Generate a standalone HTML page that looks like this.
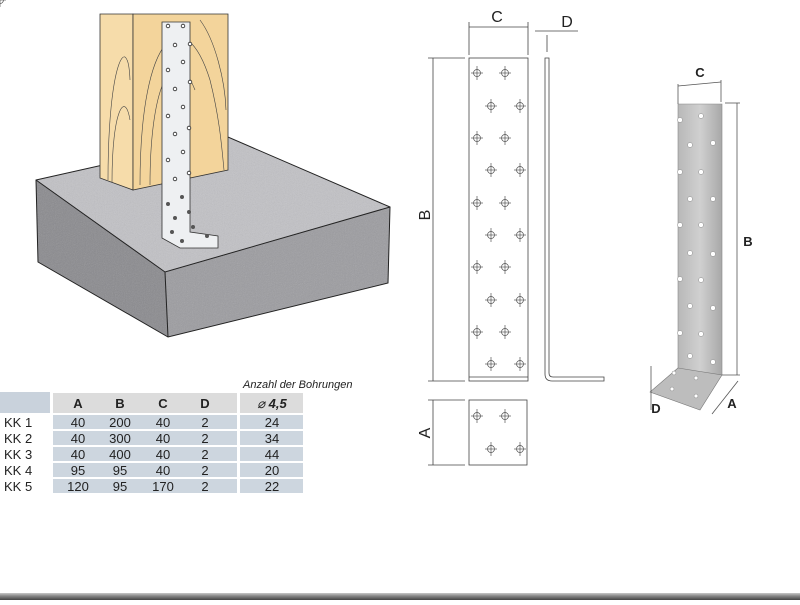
<!DOCTYPE html>
<html><head><meta charset="utf-8"><style>
body{margin:0;background:#fff;width:800px;height:600px;overflow:hidden;font-family:"Liberation Sans",sans-serif}
</style></head><body>
<svg width="800" height="600" viewBox="0 0 800 600" xmlns="http://www.w3.org/2000/svg" font-family="Liberation Sans, sans-serif">
<defs>
<filter id="noise" x="0" y="0" width="1" height="1"><feTurbulence type="fractalNoise" baseFrequency="1.1" numOctaves="2" seed="3"/><feColorMatrix type="saturate" values="0"/><feComponentTransfer><feFuncA type="linear" slope="0.6"/></feComponentTransfer></filter>
<clipPath id="slab"><polygon points="36,180 228,137 390,207 388,283 168,337 38,262"/></clipPath>
<linearGradient id="bar" x1="0" y1="0" x2="0" y2="1"><stop offset="0" stop-color="#c8c8c8"/><stop offset="0.4" stop-color="#8a8a8a"/><stop offset="1" stop-color="#444"/></linearGradient>
<linearGradient id="steel" x1="0" y1="0" x2="1" y2="0"><stop offset="0" stop-color="#b8b8b8"/><stop offset="0.5" stop-color="#d0d0d0"/><stop offset="1" stop-color="#a8a8a8"/></linearGradient>
</defs>
<!-- concrete slab -->
<polygon points="36,180 228,137 390,207 165,272" fill="#c2c2c6"/>
<polygon points="36,180 165,272 168,337 38,262" fill="#8a8a8e"/>
<polygon points="165,272 390,207 388,283 168,337" fill="#9c9ca0"/>
<g clip-path="url(#slab)" opacity="0.45"><rect x="30" y="130" width="365" height="212" fill="#888" filter="url(#noise)"/></g>
<g fill="none" stroke="#222" stroke-width="1">
<polygon points="36,180 228,137 390,207 388,283 168,337 38,262"/>
<polyline points="36,180 165,272 390,207"/><line x1="165" y1="272" x2="168" y2="337"/>
</g>
<!-- post -->
<polygon points="100,14 133,14 133,190 100,178" fill="#f6dcaa" stroke="#333" stroke-width="0.8"/>
<polygon points="133,14 228,14 228,170 133,190" fill="#f3d49b" stroke="#333" stroke-width="0.8"/>
<g fill="none" stroke="#444" stroke-width="0.6">
<path d="M108,180 C108,60 128,30 130,80"/><path d="M112,182 C112,110 125,90 130,120"/>
<path d="M140,185 C140,30 185,0 210,80 C220,120 222,150 224,170"/>
<path d="M150,185 C150,80 175,40 195,90"/><path d="M200,20 C215,40 225,80 226,110"/>
</g>
<!-- bracket -->
<polygon points="162,22 190,22 190,232 218,236 218,248 180,248 162,238" fill="#eef0f2" stroke="#333" stroke-width="0.8"/>
<g fill="#fff" stroke="#222" stroke-width="0.8">
<circle cx="168" cy="26" r="1.8"/><circle cx="183" cy="26" r="1.8"/><circle cx="175" cy="45" r="1.8"/><circle cx="190" cy="44" r="1.8"/><circle cx="183" cy="62" r="1.8"/><circle cx="168" cy="70" r="1.8"/><circle cx="190" cy="82" r="1.8"/><circle cx="175" cy="89" r="1.8"/><circle cx="183" cy="107" r="1.8"/><circle cx="168" cy="116" r="1.8"/><circle cx="189" cy="128" r="1.8"/><circle cx="175" cy="134" r="1.8"/><circle cx="183" cy="152" r="1.8"/><circle cx="168" cy="160" r="1.8"/><circle cx="189" cy="173" r="1.8"/><circle cx="175" cy="179" r="1.8"/>
</g>
<g fill="#555"><circle cx="182" cy="197" r="2"/><circle cx="168" cy="204" r="2"/><circle cx="189" cy="212" r="2"/><circle cx="175" cy="218" r="2"/><circle cx="193" cy="227" r="2"/><circle cx="172" cy="232" r="2"/><circle cx="182" cy="241" r="2"/><circle cx="207" cy="236" r="2"/></g>

<!-- table -->
<text x="243" y="388" font-size="11" font-style="italic" fill="#222">Anzahl der Bohrungen</text>
<rect x="0" y="392" width="50" height="21" fill="#c9d2dc"/>
<rect x="53" y="393" width="184" height="20" fill="#dcdcdc"/>
<rect x="240" y="393" width="63" height="20" fill="#dcdcdc"/>
<g font-size="13" font-weight="bold" fill="#222" text-anchor="middle"><text x="78" y="408">A</text><text x="120" y="408">B</text><text x="163" y="408">C</text><text x="205" y="408">D</text><text x="272" y="408" font-style="italic"><tspan font-weight="normal">⌀</tspan> 4,5</text></g>
<g fill="#cdd6df"><rect x="53" y="415" width="184" height="14"/><rect x="53" y="431" width="184" height="14"/><rect x="53" y="447" width="184" height="14"/><rect x="53" y="463" width="184" height="14"/><rect x="53" y="479" width="184" height="14"/><rect x="240" y="415" width="63" height="14"/><rect x="240" y="431" width="63" height="14"/><rect x="240" y="447" width="63" height="14"/><rect x="240" y="463" width="63" height="14"/><rect x="240" y="479" width="63" height="14"/></g>
<g font-size="13" fill="#222">
<text x="4" y="427">KK 1</text><text x="4" y="443">KK 2</text><text x="4" y="459">KK 3</text><text x="4" y="475">KK 4</text><text x="4" y="491">KK 5</text>
</g>
<g font-size="13" fill="#222" text-anchor="middle">
<text x="78" y="427">40</text><text x="120" y="427">200</text><text x="163" y="427">40</text><text x="205" y="427">2</text><text x="272" y="427">24</text>
<text x="78" y="443">40</text><text x="120" y="443">300</text><text x="163" y="443">40</text><text x="205" y="443">2</text><text x="272" y="443">34</text>
<text x="78" y="459">40</text><text x="120" y="459">400</text><text x="163" y="459">40</text><text x="205" y="459">2</text><text x="272" y="459">44</text>
<text x="78" y="475">95</text><text x="120" y="475">95</text><text x="163" y="475">40</text><text x="205" y="475">2</text><text x="272" y="475">20</text>
<text x="78" y="491">120</text><text x="120" y="491">95</text><text x="163" y="491">170</text><text x="205" y="491">2</text><text x="272" y="491">22</text>
</g>

<!-- technical drawing -->
<g stroke="#444" stroke-width="0.8" fill="none">
<rect x="469" y="58" width="59" height="323"/>
<line x1="469" y1="377" x2="528" y2="377"/>
<rect x="469" y="400" width="58" height="65"/>
<line x1="469" y1="27" x2="528" y2="27"/><line x1="469" y1="22" x2="469" y2="55"/><line x1="528" y1="22" x2="528" y2="55"/>
<line x1="535" y1="31" x2="578" y2="31"/><line x1="547" y1="35" x2="547" y2="52"/>
<line x1="433" y1="58" x2="433" y2="381"/><line x1="428" y1="58" x2="465" y2="58"/><line x1="428" y1="381" x2="465" y2="381"/>
<line x1="433" y1="400" x2="433" y2="465"/><line x1="428" y1="400" x2="465" y2="400"/><line x1="428" y1="465" x2="465" y2="465"/>
<path d="M545,58 V374 Q545,381 552,381 H604 V377 H553 Q549,377 549,373 V58 Z"/>
</g>
<g fill="#222" font-size="16" text-anchor="middle">
<text x="497" y="22">C</text><text x="567" y="27">D</text>
<text transform="translate(430,215) rotate(-90)">B</text>
<text transform="translate(430,433) rotate(-90)">A</text>
</g>
<g stroke="#555" stroke-width="0.7" fill="none">
<g id="hh"><circle r="3.5"/><line x1="-6" y1="0" x2="6" y2="0"/><line x1="0" y1="-7" x2="0" y2="7"/></g>
</g>
<g stroke="#555" stroke-width="0.7" fill="none">
<use href="#hh" x="477" y="73"/><use href="#hh" x="505" y="73"/>
<use href="#hh" x="491" y="106"/><use href="#hh" x="520" y="106"/>
<use href="#hh" x="477" y="138"/><use href="#hh" x="505" y="138"/>
<use href="#hh" x="491" y="170"/><use href="#hh" x="520" y="170"/>
<use href="#hh" x="477" y="203"/><use href="#hh" x="505" y="203"/>
<use href="#hh" x="491" y="235"/><use href="#hh" x="520" y="235"/>
<use href="#hh" x="477" y="267"/><use href="#hh" x="505" y="267"/>
<use href="#hh" x="491" y="300"/><use href="#hh" x="520" y="300"/>
<use href="#hh" x="477" y="332"/><use href="#hh" x="505" y="332"/>
<use href="#hh" x="491" y="364"/><use href="#hh" x="520" y="364"/>
<use href="#hh" x="477" y="416"/><use href="#hh" x="505" y="416"/>
<use href="#hh" x="491" y="449"/><use href="#hh" x="520" y="449"/>
</g>

<!-- photo bracket -->
<polygon points="678,104 722,104 722,375 700,390 678,368" fill="url(#steel)" stroke="#888" stroke-width="0.6"/>
<polygon points="678,368 722,375 700,410 650,392" fill="#bdbdbd" stroke="#777" stroke-width="0.6"/>
<g fill="#fff" stroke="#888" stroke-width="0.5">
<circle cx="680" cy="120" r="2.5"/><circle cx="701" cy="116" r="2.5"/><circle cx="690" cy="145" r="2.5"/><circle cx="713" cy="143" r="2.5"/>
<circle cx="680" cy="172" r="2.5"/><circle cx="701" cy="172" r="2.5"/><circle cx="690" cy="199" r="2.5"/><circle cx="713" cy="199" r="2.5"/>
<circle cx="680" cy="225" r="2.5"/><circle cx="701" cy="225" r="2.5"/><circle cx="690" cy="253" r="2.5"/><circle cx="713" cy="254" r="2.5"/>
<circle cx="680" cy="279" r="2.5"/><circle cx="701" cy="280" r="2.5"/><circle cx="690" cy="306" r="2.5"/><circle cx="713" cy="308" r="2.5"/>
<circle cx="680" cy="333" r="2.5"/><circle cx="701" cy="334" r="2.5"/><circle cx="690" cy="356" r="2.5"/><circle cx="713" cy="362" r="2.5"/>
<circle cx="674" cy="373" r="2"/><circle cx="696" cy="378" r="2"/><circle cx="672" cy="389" r="2"/><circle cx="696" cy="396" r="2"/>
</g>
<g stroke="#555" stroke-width="0.8" fill="none">
<line x1="678" y1="86" x2="721" y2="82"/><line x1="678" y1="84" x2="678" y2="104"/><line x1="721" y1="80" x2="721" y2="102"/>
<line x1="737" y1="103" x2="737" y2="375"/><line x1="725" y1="103" x2="740" y2="103"/><line x1="722" y1="375" x2="740" y2="375"/>
<line x1="712" y1="414" x2="738" y2="381"/><line x1="651" y1="366" x2="651" y2="410"/>
</g>
<g fill="#222" font-size="13" font-weight="bold" text-anchor="middle">
<text x="700" y="77">C</text><text x="748" y="246">B</text><text x="732" y="408">A</text><text x="656" y="413">D</text>
</g>

<!-- bottom bar -->
<rect x="0" y="593" width="800" height="7" fill="url(#bar)"/>
</svg>
</body></html>
